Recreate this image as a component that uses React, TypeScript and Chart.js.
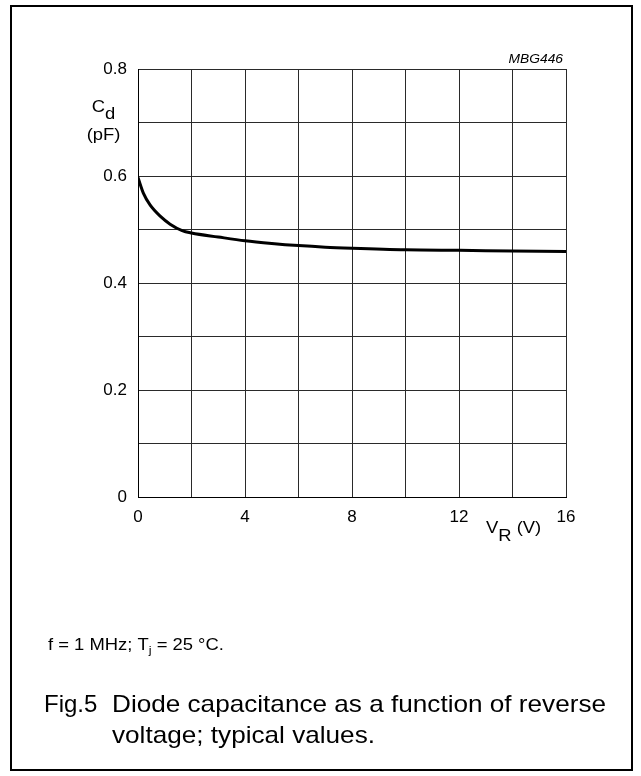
import React, { useEffect, useRef } from "react";
import { Chart, registerables } from "chart.js";

Chart.register(...registerables);

// Reverse voltage V_R (V)
const voltages = [0, 0.2, 0.45, 0.85, 1.2, 1.65, 2, 3, 4, 5, 6, 7, 8, 10, 12, 14, 16];
// Diode capacitance C_d (pF)
const capacitance = [0.597, 0.568, 0.546, 0.524, 0.51, 0.498, 0.4935, 0.486, 0.479, 0.474, 0.47, 0.467, 0.465, 0.462, 0.461, 0.46, 0.459];
const xTickLabels = ["0", "4", "8", "12", "16"];
const yTickLabels = ["0", "0.2", "0.4", "0.6", "0.8"];

const FONT = '"Liberation Sans", Arial, Helvetica, sans-serif';
const SX = 1.15;

type Part = { t: string; size: number; dy?: number; italic?: boolean };

function drawParts(ctx: CanvasRenderingContext2D, parts: Part[], x: number, y: number, sx: number, align: "left" | "right" | "center" = "left") {
  ctx.save();
  ctx.fillStyle = "#000";
  ctx.textBaseline = "alphabetic";
  ctx.textAlign = "left";
  const widths = parts.map((p) => {
    ctx.font = `${p.italic ? "italic " : ""}${p.size}px ${FONT}`;
    return ctx.measureText(p.t).width * sx;
  });
  const total = widths.reduce((a, b) => a + b, 0);
  let cx = align === "left" ? x : align === "right" ? x - total : x - total / 2;
  parts.forEach((p, i) => {
    ctx.font = `${p.italic ? "italic " : ""}${p.size}px ${FONT}`;
    ctx.save();
    ctx.translate(cx, y + (p.dy || 0));
    ctx.scale(sx, 1);
    ctx.fillText(p.t, 0, 0);
    ctx.restore();
    cx += widths[i];
  });
  ctx.restore();
}

const annotations = {
  id: "annotations",
  afterDraw(chart: any) {
    const ctx: CanvasRenderingContext2D = chart.ctx;
    // outer frame
    ctx.save();
    ctx.strokeStyle = "#000";
    ctx.lineWidth = 2;
    ctx.strokeRect(11, 6, 621, 764);
    ctx.restore();

    drawParts(ctx, [{ t: "MBG446", size: 12, italic: true }], 563, 63.3, SX, "right");

    // y axis title
    drawParts(ctx, [{ t: "C", size: 16 }, { t: "d", size: 16, dy: 7 }], 103.5, 112, SX, "center");
    drawParts(ctx, [{ t: "(pF)", size: 16 }], 103.5, 139.5, SX, "center");

    // x axis title
    drawParts(ctx, [{ t: "V", size: 16 }, { t: "R", size: 16, dy: 8 }, { t: " (V)", size: 16 }], 486, 533.3, SX, "left");

    // conditions
    drawParts(ctx, [{ t: "f = 1 MHz; T", size: 16 }, { t: "j", size: 11, dy: 4 }, { t: " = 25 \u00B0C.", size: 16 }], 48, 650, SX, "left");

    // caption
    ctx.save();
    ctx.font = `24px ${FONT}`;
    const w = ctx.measureText("Diode capacitance as a function of reverse").width;
    ctx.restore();
    const csx = 494 / w;
    drawParts(ctx, [{ t: "Fig.5", size: 24 }], 44, 712, 1.0, "left");
    drawParts(ctx, [{ t: "Diode capacitance as a function of reverse", size: 24 }], 112, 712, csx, "left");
    drawParts(ctx, [{ t: "voltage; typical values.", size: 24 }], 112, 743, csx, "left");
  },
};

export default function App() {
  const ref = useRef<HTMLCanvasElement | null>(null);

  useEffect(() => {
    if (!ref.current) return;
    const chart = new Chart(ref.current, {
      type: "line",
      data: {
        datasets: [
          {
            data: voltages.map((v, i) => ({ x: v, y: capacitance[i] })),
            borderColor: "#000",
            borderWidth: 3,
            pointRadius: 0,
            fill: false,
            cubicInterpolationMode: "monotone",
          },
        ],
      },
      options: {
        animation: false,
        responsive: false,
        devicePixelRatio: 1,
        layout: { padding: { left: 0, top: 69, right: 75, bottom: 0 } },
        plugins: { legend: { display: false }, tooltip: { enabled: false } },
        scales: {
          x: {
            type: "linear",
            min: 0,
            max: 16,
            afterFit: (s: any) => {
              s.height = 279;
            },
            ticks: {
              stepSize: 2,
              autoSkip: false,
              maxRotation: 0,
              padding: 10,
              color: "#000",
              font: { family: FONT, size: 17 },
              callback: (v: any) => {
                const s = String(v);
                return xTickLabels.includes(s) ? s : "";
              },
            },
            grid: { color: "#2a2a2a", lineWidth: 1, drawTicks: false },
            border: { color: "#000", width: 1 },
          },
          y: {
            type: "linear",
            min: 0,
            max: 0.8,
            afterFit: (s: any) => {
              s.width = 138;
            },
            ticks: {
              stepSize: 0.1,
              autoSkip: false,
              padding: 11,
              color: "#000",
              font: { family: FONT, size: 17 },
              callback: (v: any) => {
                const s = String(Math.round(Number(v) * 10) / 10);
                return yTickLabels.includes(s) ? s : "";
              },
            },
            grid: { color: "#2a2a2a", lineWidth: 1, drawTicks: false },
            border: { color: "#000", width: 1 },
          },
        },
      },
      plugins: [annotations],
    } as any);
    return () => chart.destroy();
  }, []);

  return (
    <div style={{ position: "absolute", left: 0, top: 0, width: 641, height: 776, background: "#fff" }}>
      <canvas ref={ref} width={641} height={776} style={{ display: "block" }} />
    </div>
  );
}
